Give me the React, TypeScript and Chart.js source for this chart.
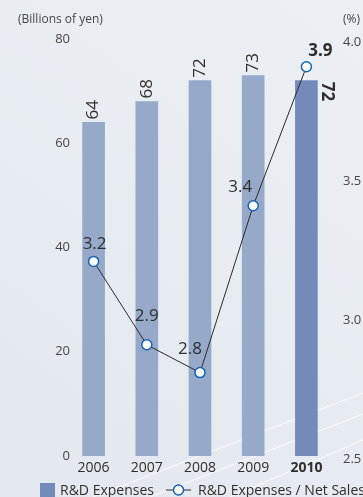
import React, { useEffect, useRef } from "react";
import { Chart, registerables } from "chart.js";

Chart.register(...registerables);

// Fiscal years on the category axis
const years = ["2006", "2007", "2008", "2009", "2010"];
// R&D expenses, billions of yen (left axis)
const rdExpenses = [64, 68, 72, 73, 72];
// R&D expenses as a share of net sales, % (right axis)
const rdRatio = [3.2, 2.9, 2.8, 3.4, 3.9];
// Axis ranges
const yenTicks = [0, 20, 40, 60, 80];
const ratioTicks = [2.5, 3.0, 3.5, 4.0];

const FONT = '"Open Sans", "Noto Sans", sans-serif';
const BAR = "#97a9c9";
const BAR_LATEST = "#738bbb";
const LINE = "#2a2a2a";
const POINT_EDGE = "#1663b4";
const TEXT = "#2e2e2e";
const TICK = "#454545";

// Where each ratio label sits relative to its point
const ratioLabelOffset: [number, number][] = [
  [1, -17],
  [0, -29],
  [-10, -23],
  [-13, -19],
  [14, -16],
];

const backdrop = {
  id: "backdrop",
  beforeDraw(chart: Chart) {
    const { ctx, width, height } = chart;
    ctx.save();
    const g = ctx.createLinearGradient(width, 0, 0, height);
    g.addColorStop(0, "#ecf0f5");
    g.addColorStop(1, "#e2e8ee");
    ctx.fillStyle = g;
    ctx.fillRect(0, 0, width, height);
    // soft light streaks across the lower right
    ctx.strokeStyle = "rgba(255,255,255,0.8)";
    ctx.lineWidth = 1;
    const streaks = [
      [93, 497, 363, 393],
      [150, 497, 363, 414],
      [230, 497, 363, 440],
    ];
    for (const [x1, y1, x2, y2] of streaks) {
      ctx.beginPath();
      ctx.moveTo(x1, y1);
      ctx.lineTo(x2, y2);
      ctx.stroke();
    }
    ctx.restore();
  },
};

const annotations = {
  id: "annotations",
  afterDatasetsDraw(chart: Chart) {
    const { ctx } = chart;
    const bars = chart.getDatasetMeta(0).data as any[];
    const pts = chart.getDatasetMeta(1).data as any[];
    const lastIdx = bars.length - 1;
    ctx.save();
    ctx.fillStyle = TEXT;
    ctx.textBaseline = "middle";
    bars.forEach((bar, i) => {
      const latest = i === lastIdx;
      ctx.save();
      ctx.font = `${latest ? "bold " : ""}17px ${FONT}`;
      ctx.textAlign = "left";
      if (latest) {
        ctx.translate(bar.x + 20, bar.y + 1);
        ctx.rotate(Math.PI / 2);
      } else {
        ctx.translate(bar.x, bar.y - 3);
        ctx.rotate(-Math.PI / 2);
      }
      ctx.fillText(String(rdExpenses[i]), 0, 0);
      ctx.restore();
    });
    pts.forEach((p, i) => {
      const latest = i === lastIdx;
      const [dx, dy] = ratioLabelOffset[i];
      ctx.font = `${latest ? "bold " : ""}17px ${FONT}`;
      ctx.textAlign = "center";
      ctx.fillText(rdRatio[i].toFixed(1), p.x + dx, p.y + dy);
    });
    ctx.restore();
  },
  afterDraw(chart: Chart) {
    const { ctx } = chart;
    ctx.save();
    // left axis values, right-aligned just past the plot edge
    const yScale = chart.scales.y;
    ctx.fillStyle = TICK;
    ctx.font = `13px ${FONT}`;
    ctx.textAlign = "right";
    ctx.textBaseline = "middle";
    yenTicks.forEach((v) => {
      ctx.fillText(String(v), yScale.right + 3, yScale.getPixelForValue(v));
    });

    // axis captions
    ctx.font = `12px ${FONT}`;
    ctx.textAlign = "left";
    ctx.fillText("(Billions of yen)", 18, 20);
    ctx.fillText("(%)", 343, 20);

    // legend
    const y = 490;
    ctx.font = `14px ${FONT}`;
    ctx.fillStyle = BAR_LATEST;
    ctx.fillRect(40, 483, 15, 15);
    ctx.fillStyle = TEXT;
    ctx.textBaseline = "alphabetic";
    ctx.fillText("R&D Expenses", 60, 495);
    ctx.strokeStyle = LINE;
    ctx.lineWidth = 1;
    ctx.beginPath();
    ctx.moveTo(166, y);
    ctx.lineTo(191, y);
    ctx.stroke();
    ctx.beginPath();
    ctx.arc(178.5, y, 5, 0, Math.PI * 2);
    ctx.fillStyle = "#ffffff";
    ctx.fill();
    ctx.lineWidth = 1.5;
    ctx.strokeStyle = POINT_EDGE;
    ctx.stroke();
    ctx.fillStyle = TEXT;
    ctx.fillText("R&D Expenses / Net Sales", 198, 495);
    ctx.restore();
  },
};

export default function App() {
  const canvasRef = useRef<HTMLCanvasElement | null>(null);

  useEffect(() => {
    const canvas = canvasRef.current;
    if (!canvas) return;
    const lastIdx = years.length - 1;
    const chart = new Chart(canvas, {
      type: "bar",
      data: {
        labels: years,
        datasets: [
          {
            type: "bar",
            label: "R&D Expenses",
            data: rdExpenses,
            backgroundColor: years.map((_, i) => (i === lastIdx ? BAR_LATEST : BAR)),
            barThickness: 22,
            yAxisID: "y",
            order: 2,
          },
          {
            type: "line",
            label: "R&D Expenses / Net Sales",
            data: rdRatio,
            yAxisID: "y1",
            borderColor: LINE,
            borderWidth: 1,
            pointRadius: 5,
            pointBorderWidth: 1.5,
            pointBorderColor: POINT_EDGE,
            pointBackgroundColor: "#ffffff",
            tension: 0,
            order: 1,
            clip: false,
          } as any,
        ],
      },
      options: {
        responsive: false,
        animation: false,
        layout: { padding: { top: 39, bottom: 0, left: 0, right: 0 } },
        plugins: {
          legend: { display: false },
          tooltip: { enabled: false },
        },
        scales: {
          x: {
            grid: { display: false, drawTicks: false },
            border: { display: false },
            ticks: {
              padding: 4,
              color: TEXT,
              font: (ctx: any) => ({
                family: FONT,
                size: 14,
                weight: ctx.index === lastIdx ? "bold" : "normal",
              }),
            },
            afterFit: (s: any) => {
              s.height = 41;
            },
          },
          y: {
            position: "left",
            min: yenTicks[0],
            max: yenTicks[yenTicks.length - 1],
            grid: { display: false, drawTicks: false },
            border: { display: false },
            ticks: {
              display: false,
              stepSize: yenTicks[1] - yenTicks[0],
            },
            afterFit: (s: any) => {
              s.width = 67;
            },
          },
          y1: {
            position: "right",
            min: ratioTicks[0],
            max: ratioTicks[ratioTicks.length - 1],
            grid: { display: false, drawTicks: false },
            border: { display: false },
            ticks: {
              stepSize: ratioTicks[1] - ratioTicks[0],
              padding: 10,
              labelOffset: 3,
              color: TICK,
              font: { family: FONT, size: 13 },
              callback: (v: any) => Number(v).toFixed(1),
            },
            afterFit: (s: any) => {
              s.width = 30;
            },
          },
        },
      },
      plugins: [backdrop, annotations],
    });
    return () => chart.destroy();
  }, []);

  return (
    <div style={{ position: "fixed", left: 0, top: 0, width: 363, height: 497 }}>
      <canvas ref={canvasRef} width={363} height={497} style={{ display: "block" }} />
    </div>
  );
}
